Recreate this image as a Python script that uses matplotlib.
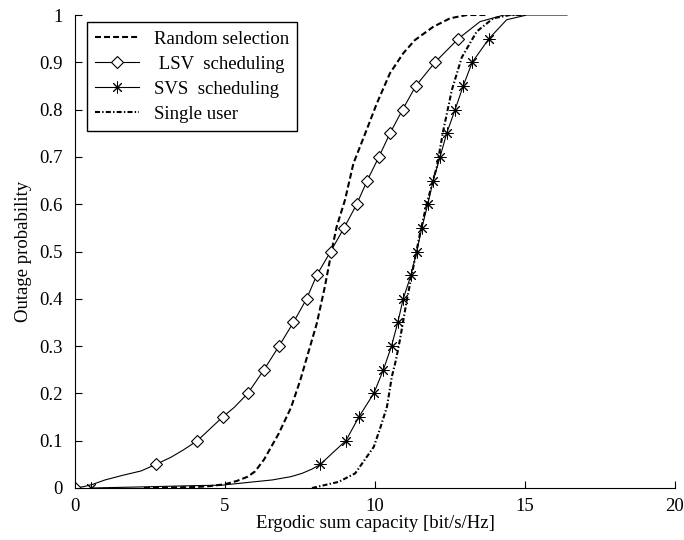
import numpy as np
import matplotlib
matplotlib.use('Agg')
import matplotlib.pyplot as plt

plt.rcParams['font.family'] = ['Liberation Serif', 'DejaVu Serif']
plt.rcParams['font.size'] = 13.5
plt.rcParams['lines.scale_dashes'] = False

# Random selection (dashed)
rand_x = [2.3, 3.0, 4.0, 4.5, 5.0, 5.4, 5.76, 6.0, 6.3, 6.79, 7.2, 7.51, 7.72, 8.06, 8.33,
          8.56, 8.72, 9.0, 9.28, 9.72, 10.06, 10.5, 10.94, 11.33, 11.94, 12.5, 13.06, 13.74]
rand_y = [0.0, 0.001, 0.002, 0.004, 0.008, 0.015, 0.024, 0.035, 0.06, 0.115, 0.17, 0.228, 0.274, 0.348, 0.426,
          0.503, 0.552, 0.609, 0.686, 0.757, 0.813, 0.877, 0.919, 0.947, 0.975, 0.993, 1.0, 1.0]

# LSV scheduling (solid + diamonds)
lsv_x = [0.0, 0.3, 0.6, 1.0, 1.6, 2.2, 2.7, 3.2, 3.6, 4.08, 4.5, 4.92, 5.3, 5.76, 6.3, 6.8, 7.28,
         7.72, 8.06, 8.52, 8.97, 9.39, 9.74, 10.13, 10.5, 10.92, 11.36, 12.0, 12.78, 13.5, 14.3, 15.0]
lsv_y = [0.0, 0.003, 0.008, 0.017, 0.027, 0.036, 0.05, 0.065, 0.08, 0.10, 0.125, 0.15, 0.17, 0.20, 0.25, 0.30, 0.35,
         0.40, 0.45, 0.50, 0.55, 0.60, 0.65, 0.70, 0.75, 0.80, 0.85, 0.90, 0.95, 0.986, 1.0, 1.0]
lsv_mx = [0.0, 2.7, 4.08, 4.92, 5.76, 6.3, 6.8, 7.28, 7.72, 8.06, 8.52, 8.97, 9.39, 9.74, 10.13,
          10.5, 10.92, 11.36, 12.0, 12.78]
lsv_my = [0.0, 0.05, 0.10, 0.15, 0.20, 0.25, 0.30, 0.35, 0.40, 0.45, 0.50, 0.55, 0.60, 0.65, 0.70,
          0.75, 0.80, 0.85, 0.90, 0.95]

# SVS scheduling (solid + asterisks)
svs_x = [0.53, 2.0, 4.0, 4.9, 5.8, 6.57, 7.2, 7.57, 7.9, 8.18, 8.6, 9.03, 9.46, 9.96, 10.28, 10.55,
         10.76, 10.94, 11.2, 11.39, 11.56, 11.76, 11.94, 12.17, 12.39, 12.67, 12.94, 13.24, 13.8,
         14.39, 15.06, 16.4]
svs_y = [0.0, 0.002, 0.005, 0.006, 0.012, 0.017, 0.024, 0.031, 0.04, 0.05, 0.075, 0.10, 0.15, 0.20, 0.25, 0.30,
         0.35, 0.40, 0.45, 0.50, 0.55, 0.60, 0.65, 0.70, 0.75, 0.80, 0.85, 0.90, 0.95,
         0.99, 1.0, 1.0]
svs_mx = [0.53, 8.18, 9.03, 9.46, 9.96, 10.28, 10.55, 10.76, 10.94, 11.2, 11.39, 11.56, 11.76,
          11.94, 12.17, 12.39, 12.67, 12.94, 13.24, 13.8]
svs_my = [0.0, 0.05, 0.10, 0.15, 0.20, 0.25, 0.30, 0.35, 0.40, 0.45, 0.50, 0.55, 0.60,
          0.65, 0.70, 0.75, 0.80, 0.85, 0.90, 0.95]

# Single user (dash-dot)
single_x = [7.9, 8.79, 9.34, 9.96, 10.17, 10.4, 10.56, 10.7, 10.83, 11.06, 11.28, 11.5, 11.72,
            12.06, 12.28, 12.56, 12.89, 13.39, 13.94, 14.5, 15.0]
single_y = [0.0, 0.013, 0.031, 0.087, 0.126, 0.172, 0.235, 0.271, 0.313, 0.397, 0.468, 0.538, 0.60,
            0.679, 0.757, 0.841, 0.91, 0.965, 0.993, 1.0, 1.0]

xticks = [0, 5, 10, 15, 20]
yticks = [0, 0.1, 0.2, 0.3, 0.4, 0.5, 0.6, 0.7, 0.8, 0.9, 1]
ytick_labels = ['0', '0.1', '0.2', '0.3', '0.4', '0.5', '0.6', '0.7', '0.8', '0.9', '1']

fig = plt.figure(figsize=(6.84, 5.4), dpi=100)
ax = fig.add_axes([75 / 684, 1 - 488 / 540, 600 / 684, 473 / 540])

star = (8, 2, 0)
dash = (0, (4.3, 2.2))
dashdot = (0, (3.6, 1.6, 1.0, 1.6))

ax.plot(rand_x, rand_y, color='black', lw=1.5, linestyle=dash)
ax.plot(lsv_x, lsv_y, color='black', lw=0.8)
ax.plot(lsv_mx, lsv_my, linestyle='none', marker='D', ms=6.5, mfc='white', mec='black', mew=0.8)
ax.plot(svs_x, svs_y, color='black', lw=0.8)
ax.plot(svs_mx, svs_my, linestyle='none', marker=star, ms=8.5, color='black', mew=0.7)
ax.plot(single_x, single_y, color='black', lw=1.5, linestyle=dashdot)

# legend handles
h1, = ax.plot([], [], color='black', lw=1.5, linestyle=dash)
h2, = ax.plot([], [], color='black', lw=0.8, marker='D', ms=6.5, mfc='white', mec='black', mew=0.8)
h3, = ax.plot([], [], color='black', lw=0.8, marker=star, ms=8.5, mew=0.7)
h4, = ax.plot([], [], color='black', lw=1.5, linestyle=dashdot)
leg = ax.legend([h1, h2, h3, h4],
                ['Random selection', ' LSV  scheduling', 'SVS  scheduling', 'Single user'],
                loc='upper left', bbox_to_anchor=(0.02, 0.985), numpoints=1,
                fancybox=False, framealpha=1, edgecolor='black', handlelength=2.3,
                borderpad=0.45, labelspacing=0.42, handletextpad=0.8, borderaxespad=0)
leg.get_frame().set_linewidth(1.0)

ax.set_xlim(0, 20)
ax.set_ylim(0, 1)
ax.set_xticks(xticks)
ax.set_yticks(yticks)
ax.set_yticklabels(ytick_labels)
ax.tick_params(direction='in', length=5, width=0.8, pad=7)
ax.tick_params(axis='y', pad=9)
ax.spines['top'].set_visible(False)
ax.spines['right'].set_visible(False)
ax.set_xlabel('Ergodic sum capacity [bit/s/Hz]', labelpad=0)
ax.set_ylabel('Outage probability', labelpad=5)

fig.savefig('out.png', dpi=100)
